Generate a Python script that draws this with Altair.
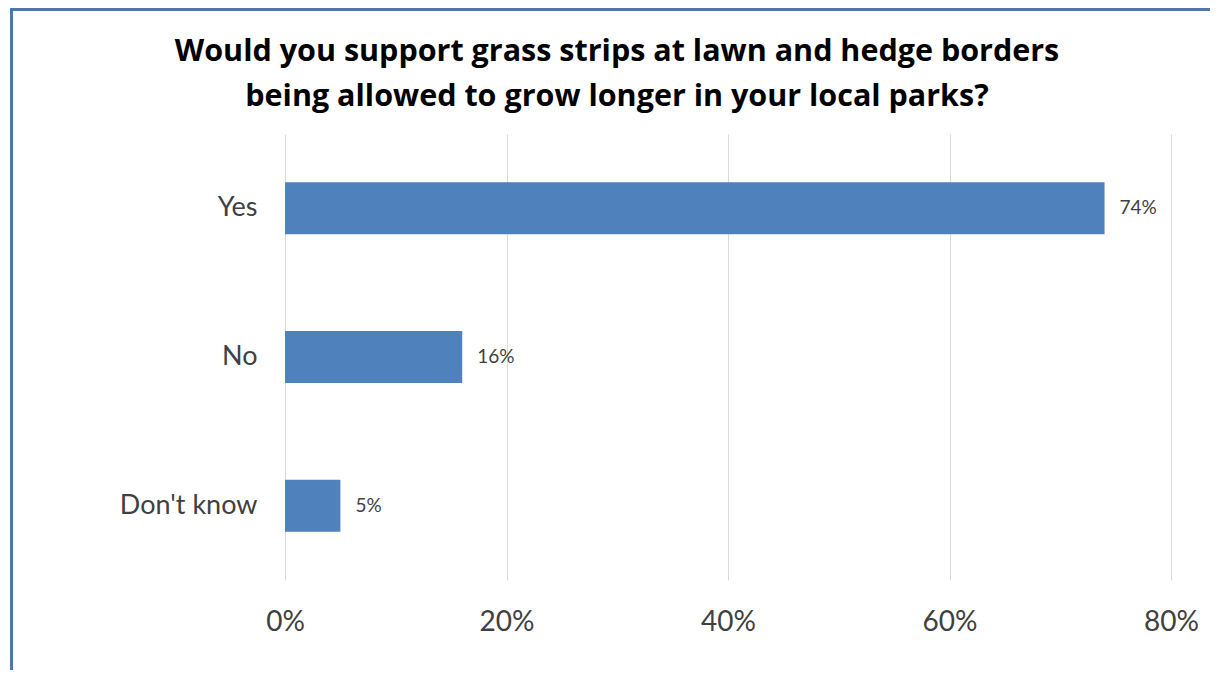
import altair as alt
import pandas as pd

categories = ["Yes", "No", "Don't know"]
values = [74, 16, 5]
labels = ["74%", "16%", "5%"]
tick_values = [0, 20, 40, 60, 80]

df = pd.DataFrame({"cat": categories, "val": values, "lab": labels})

FONT = "Lato"
TXT = "#404040"
BAR = "#4f81bd"
FRAME = "#5077ac"

base = alt.Chart(df)

y_enc = alt.Y(
    "cat:N",
    sort=categories,
    title=None,
    scale=alt.Scale(paddingInner=0.65, paddingOuter=0.325),
    axis=alt.Axis(
        domain=False, ticks=False, grid=False,
        labelFont=FONT, labelFontSize=27, labelColor=TXT,
        labelPadding=28,
    ),
)

x_enc = alt.X(
    "val:Q",
    title=None,
    scale=alt.Scale(domain=[0, 80], nice=False),
    axis=alt.Axis(
        values=tick_values, labelExpr="datum.value + '%'",
        domain=False, ticks=False, grid=True, gridColor="#d9d9d9", gridWidth=1,
        labelFont=FONT, labelFontSize=28, labelColor=TXT,
        labelPadding=28, labelFlush=False,
    ),
)

bars = base.mark_bar(color=BAR).encode(x=x_enc, y=y_enc)

text = base.mark_text(
    align="left", baseline="middle", dx=15, font=FONT, fontSize=19, color=TXT
).encode(x="val:Q", y=alt.Y("cat:N", sort=categories), text="lab:N")

left_border = base.mark_rule(color=FRAME, strokeWidth=3).encode(
    x=alt.value(-273.5), y=alt.value(-126), y2=alt.value(540)
)
top_border = base.mark_rule(color=FRAME, strokeWidth=3).encode(
    x=alt.value(-275), x2=alt.value(945), y=alt.value(-124.5)
)

chart = (
    alt.layer(bars, text, left_border, top_border)
    .properties(
        width=886,
        height=446,
        autosize=alt.AutoSizeParams(type="none"),
        padding={"left": 277, "top": 126, "right": 39, "bottom": 90},
        background="white",
        title=alt.TitleParams(
            text=[
                "Would you support grass strips at lawn and hedge borders",
                "being allowed to grow longer in your local parks?",
            ],
            font="Open Sans", fontSize=30.5, fontWeight="bold", color="#000000",
            anchor="middle", frame="group", dx=-111, dy=132, offset=26,
            lineHeight=45,
        ),
    )
    .configure_view(stroke=None)
)

chart.save("out.html", embed_options={"renderer": "svg", "actions": False})
